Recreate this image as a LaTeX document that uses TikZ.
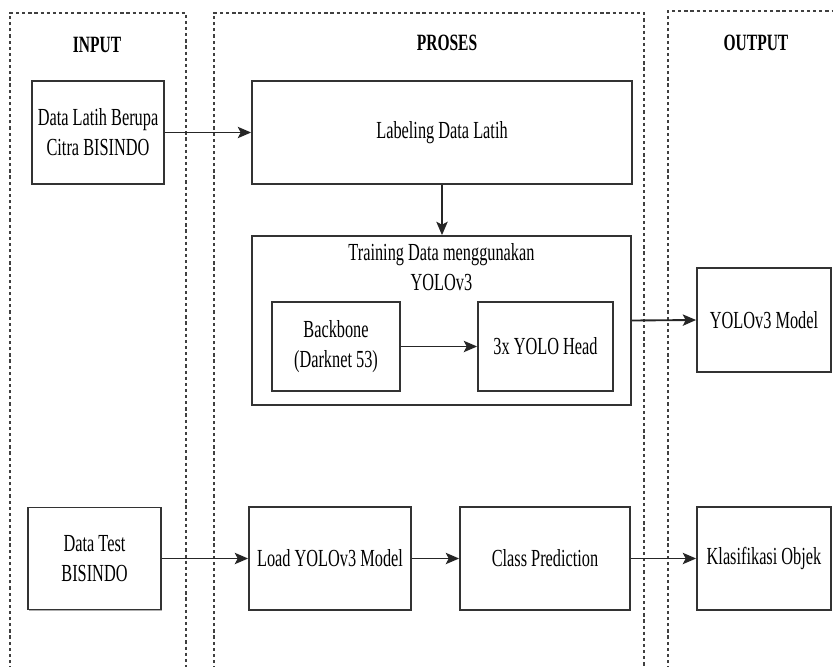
\documentclass[tikz,border=0pt]{standalone}
\usepackage{fontspec}
\setmainfont{Liberation Serif}[FakeStretch=0.665]
\usetikzlibrary{arrows.meta,shadows}
\begin{document}
\begin{tikzpicture}[x=0.75pt,y=-0.75pt,
  every node/.style={font=\fontsize{18.4}{22.5}\selectfont, text=black},
  box/.style 2 args={draw=black!80, line width=1.35pt, fill=white,
    minimum width=#1*0.75pt, minimum height=#2*0.75pt, inner sep=0pt,
    align=center,
    drop shadow={shadow xshift=0.5pt, shadow yshift=-1pt, opacity=0.45, fill=black!70}},
  lane/.style={draw=black!75, line width=0.85pt, dash pattern=on 2.4pt off 2.2pt},
  head/.style={font=\fontsize{17.5}{20}\selectfont\bfseries},
  flow/.style={draw=black!85, line width=1.4pt, -{Stealth[length=10pt,width=8.5pt,inset=2.2pt]}}]
  \useasboundingbox (0,0) rectangle (833,667);
  \clip (0,0) rectangle (833,667);

  % dashed swimlanes (open at the bottom)
  \draw[lane] (10,700) -- (10,13) -- (186,13) -- (186,700);
  \draw[lane] (214,700) -- (214,13) -- (644,13) -- (644,700);
  \draw[lane] (668,700) -- (668,11) -- (840,11);

  \node[head] (hin)  at (97,45)  {INPUT};
  \node[head] (hpro) at (447,43) {PROSES};
  \node[head] (hout) at (756,43) {OUTPUT};

  % process boxes
  \node[box={132}{103}] (latih) at (98,132.5) {Data Latih Berupa\\Citra BISINDO};
  \node[box={380}{103}] (label) at (442,132.5) {Labeling Data Latih};
  \node[box={379}{169}] (train) at (441.5,320.5) {};
  \node[align=center] (ttitle) at (441.5,267.5) {Training Data menggunakan\\YOLOv3};
  \node[box={128}{89}] (bb) at (336,346.5) {Backbone\\(Darknet 53)};
  \node[box={135}{89}] (yhead) at (545.5,346.5) {3x YOLO Head};
  \node[box={134}{104}] (model) at (764,320) {YOLOv3 Model};

  \node[box={133}{102}] (test) at (94.5,558.5) {Data Test\\BISINDO};
  \node[box={162}{103}] (load) at (330,558.5) {Load YOLOv3 Model};
  \node[box={170}{103}] (cls) at (545,558.5) {Class Prediction};
  \node[box={134}{103}] (klas) at (764,558.5) {Klasifikasi Objek};

  % connectors
  \draw[flow] (latih.east) -- (label.west);
  \draw[flow] (label.south) -- (label.south |- train.north);
  \draw[flow] (bb.east) -- (yhead.west);
  \draw[flow] (train.east) -- (model.west);
  \draw[flow] (test.east) -- (load.west);
  \draw[flow] (load.east) -- (cls.west);
  \draw[flow] (cls.east) -- (klas.west);
\end{tikzpicture}
\end{document}
